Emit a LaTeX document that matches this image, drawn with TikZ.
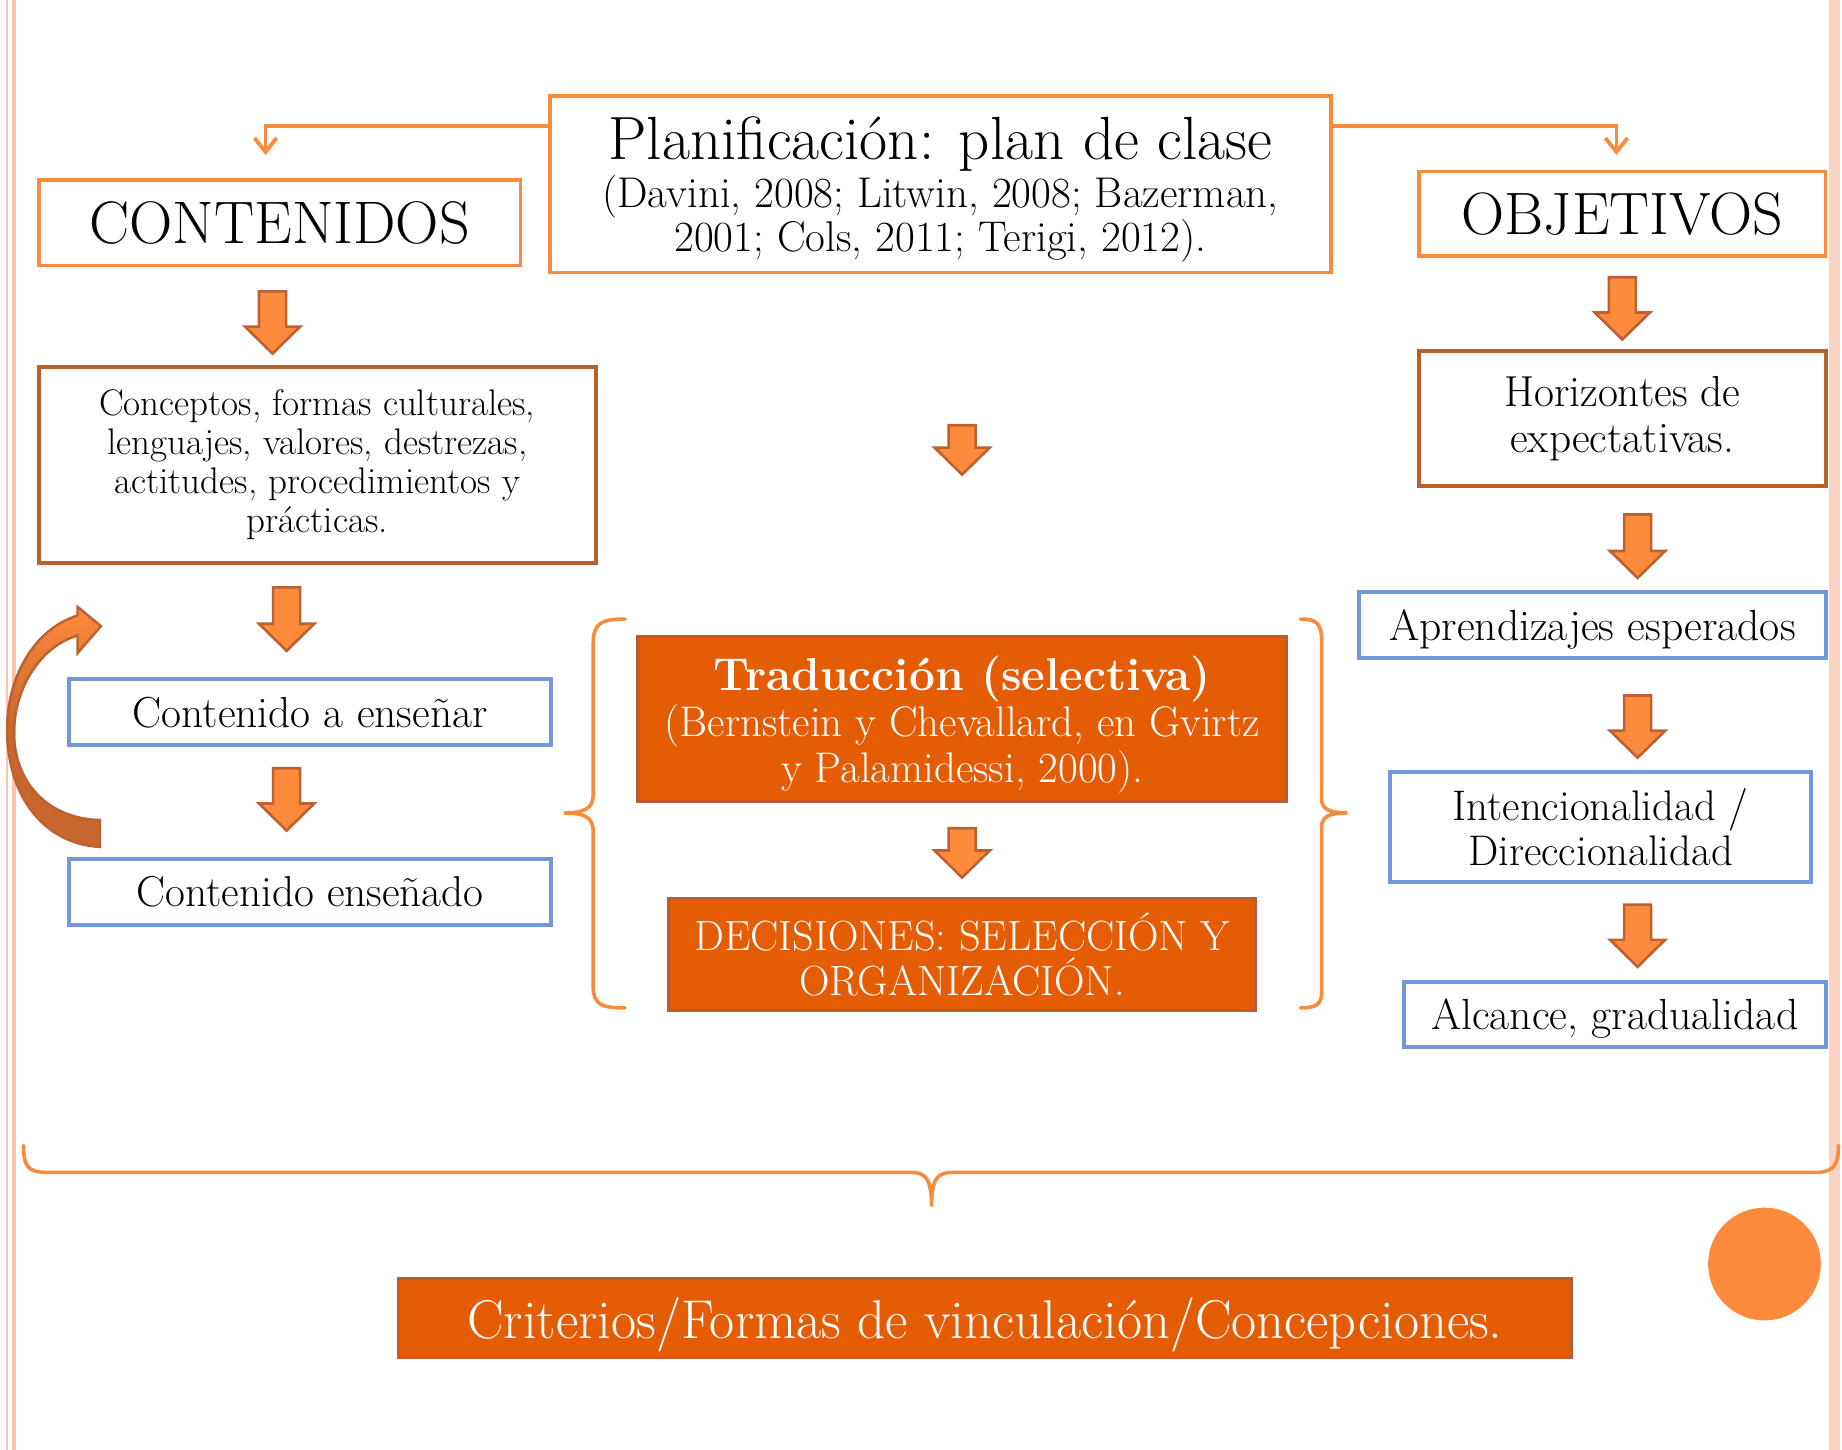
\documentclass[tikz,border=0pt]{standalone}
\usepackage{fontspec}
\usetikzlibrary{arrows.meta,calc}
\definecolor{lineor}{HTML}{F98B3C}
\definecolor{brownb}{HTML}{B9602C}
\definecolor{blueb}{HTML}{7397DB}
\definecolor{darkor}{HTML}{E45C04}
\definecolor{darkorb}{HTML}{B85D35}
\definecolor{arrfill}{HTML}{FE8A3B}
\definecolor{arrline}{HTML}{BD6130}
\definecolor{curvb}{HTML}{C8672D}
\definecolor{pinkl}{HTML}{F9C4AB}
\definecolor{pinkr}{HTML}{FBD3C3}
\newcommand\barrow[3]{\filldraw[barr] (#1-11.5,#2) -- (#1+11.5,#2) -- (#1+11.5,#3-23) -- (#1+23.5,#3-23) -- (#1,#3) -- (#1-23.5,#3-23) -- (#1-11.5,#3-23) -- cycle;}
\tikzset{
  sz/.style 2 args={minimum width=#1*0.587pt, minimum height=#2*0.587pt, inner sep=0pt, outer sep=0pt},
  obox/.style={draw=lineor, line width=1.9pt, fill=white, align=center},
  brbox/.style={draw=brownb, line width=2pt, fill=white, align=center},
  blbox/.style={draw=blueb, line width=2pt, fill=white, align=center},
  dkbox/.style={draw=darkorb, line width=1.4pt, fill=darkor, text=white, align=center},
  barr/.style={fill=arrfill, draw=arrline, line width=1.3pt, line join=miter},
  conn/.style={draw=lineor, line width=1.9pt, -{Straight Barb[length=7pt,width=11pt,line width=1.9pt]}},
  brace/.style={draw=lineor, line width=1.8pt, line cap=round},
  nodepth/.style={text depth=0pt},
}
\begin{document}
\begin{tikzpicture}[x=0.587pt,y=-0.587pt]
\useasboundingbox (0,0) rectangle (1568,1234);
\fill[white] (0,0) rectangle (1568,1234);
% page side lines
\fill[pinkl] (5,0) rectangle (7,1234);
\fill[pinkl] (10,0) rectangle (13.5,1234);
\fill[pinkr] (1557,0) rectangle (1566,1234);

% top row
\node[obox, nodepth, sz={665}{150}, font=\fontsize{21.5}{22}\selectfont] (plan) at (800.5,157)
  {{\fontsize{30.5}{32}\selectfont Planificación: plan de clase}\\[1pt]
   (Davini, 2008; Litwin, 2008; Bazerman,\\ 2001; Cols, 2011; Terigi, 2012).};
\node[obox, sz={410}{73}, font=\fontsize{30}{32}\selectfont] (cont) at (238,189.5) {CONTENIDOS};
\node[obox, sz={346}{72}, font=\fontsize{29.9}{32}\selectfont] (obj) at (1381,182) {OBJETIVOS};

\coordinate (la) at (226,132);
\coordinate (ra) at (1376,132);
\draw[conn] ($(plan.north west)!0.167!(plan.south west)$) -| (la);
\draw[conn] ($(plan.north east)!0.167!(plan.south east)$) -| (ra);

% left column
\node[brbox, sz={474}{167}, font=\fontsize{18.5}{19.6}\selectfont] (conc) at (270,395.5)
  {Conceptos, formas culturales,\\ lenguajes, valores, destrezas,\\ actitudes, procedimientos y\\ prácticas.};
\node[blbox, nodepth, sz={410}{56}, font=\fontsize{21.7}{23}\selectfont] (cae) at (264,606) {Contenido a enseñar};
\node[blbox, nodepth, sz={410}{56}, font=\fontsize{21.6}{23}\selectfont] (ced) at (264,759) {Contenido enseñado};

% curved arrow
\path[draw=arrline, line width=1.2pt, top color=arrfill, bottom color=curvb, middle color=curvb, line join=miter]
  (85,721) .. controls (35,718) and (6,675) .. (6,621)
  .. controls (6,575) and (30,535) .. (66,524)
  -- (66,516.5) -- (86,533) -- (66,556) -- (66,541)
  .. controls (35,550) and (12,585) .. (12,624)
  .. controls (12,665) and (40,697) .. (85,698) -- cycle;

% center column
\node[dkbox, nodepth, sz={552}{140}, font=\fontsize{21.4}{23}\selectfont] (trad) at (819,612)
  {{\bfseries\fontsize{23}{23}\selectfont Traducción (selectiva)}\\
   (Bernstein y Chevallard, en Gvirtz\\ y Palamidessi, 2000).};
\node[dkbox, sz={500}{95}, font=\fontsize{21.1}{22.3}\selectfont] (dec) at (819,812.5)
  {DECISIONES: SELECCIÓN Y\\ ORGANIZACIÓN.};

% braces
\draw[brace] (532,527) .. controls (512,527) and (505,530) .. (505,548) -- (505,676)
  .. controls (505,688) and (498,692) .. (480,692)
  .. controls (498,692) and (505,696) .. (505,708) -- (505,840)
  .. controls (505,855) and (512,858) .. (532,858);
\draw[brace] (1107,527) .. controls (1120,527) and (1125,530) .. (1125,545) -- (1125,680)
  .. controls (1125,689) and (1132,692) .. (1147,692)
  .. controls (1132,692) and (1125,695) .. (1125,704) -- (1125,845)
  .. controls (1125,855) and (1120,858) .. (1107,858);

% right column
\node[brbox, sz={346}{115}, font=\fontsize{21.7}{23}\selectfont] (hor) at (1381,356.5)
  {Horizontes de\\ expectativas.};
\node[blbox, nodepth, sz={397}{56}, font=\fontsize{21.8}{23}\selectfont] (apr) at (1355.5,532) {Aprendizajes esperados};
\node[blbox, sz={359}{94}, font=\fontsize{21.4}{22.3}\selectfont] (int) at (1362.5,704)
  {Intencionalidad /\\ Direccionalidad};
\node[blbox, nodepth, sz={359}{55}, font=\fontsize{21.8}{23}\selectfont] (alc) at (1374.5,863.5) {Alcance, gradualidad};

% block arrows
\barrow{232}{248}{301}
\barrow{244}{500}{554}
\barrow{244}{654}{707}
\barrow{819}{362}{404}
\barrow{819}{705}{747}
\barrow{1381}{236}{289}
\barrow{1394}{438}{492}
\barrow{1394}{592}{645}
\barrow{1394}{770}{823}

% bottom brace
\draw[brace] (20,975) .. controls (20,993) and (24,998) .. (40,998) -- (775,998)
  .. controls (788,998) and (793,1003) .. (793,1027)
  .. controls (793,1003) and (798,998) .. (811,998) -- (1545,998)
  .. controls (1560,998) and (1565,993) .. (1565,975);

\node[dkbox, nodepth, sz={999}{68}, font=\fontsize{27.3}{28}\selectfont] (crit) at (838.5,1122)
  {Criterios/Formas de vinculación/Concepciones.};
\node[circle, fill=arrfill, minimum size=96*0.587pt, inner sep=0pt] (dot) at (1502,1076) {};
\end{tikzpicture}
\end{document}
